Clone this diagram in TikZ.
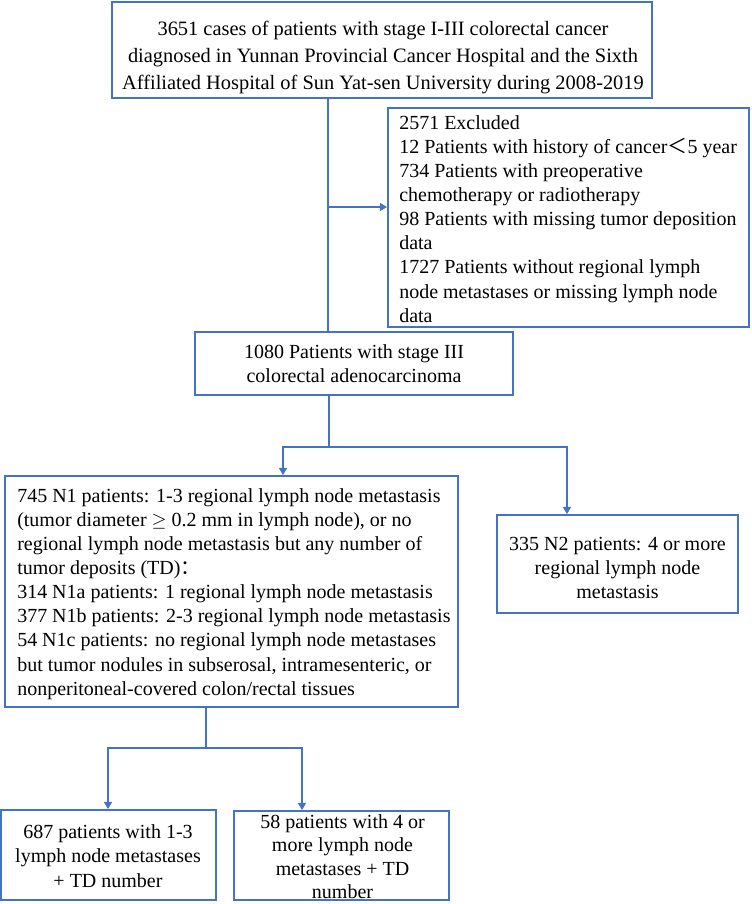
\documentclass[tikz,border=0pt]{standalone}
\usepackage{fontspec}
\setmainfont{Liberation Serif}
\newfontfamily\cjk{Noto Sans CJK SC}
\usetikzlibrary{arrows.meta}
\definecolor{lineblue}{HTML}{4472C4}
\begin{document}
\begin{tikzpicture}[x=0.75pt,y=-0.75pt,
  box/.style={draw=lineblue, line width=1.3pt, rectangle, inner sep=0pt},
  txt/.style={inner sep=0pt, align=center, font=\fontsize{15}{18.1}\selectfont},
  ltxt/.style={txt, align=left, anchor=north west},
  ln/.style={draw=lineblue, line width=1.4pt},
  arr/.style={ln, -{Triangle[width=6pt,length=5.5pt]}}]
\useasboundingbox (0,0) rectangle (752,904);

% boxes
\node[box, minimum width=405pt, minimum height=72pt] (top) at (382,50) {};
\node[box, minimum width=270.75pt, minimum height=164.25pt] (excl) at (568.5,217.5) {};
\node[box, minimum width=238.5pt, minimum height=47.25pt] (mid) at (354,363.5) {};
\node[box, minimum width=339.75pt, minimum height=173.25pt] (n1) at (231.5,591.5) {};
\node[box, minimum width=180.75pt, minimum height=73.5pt] (n2) at (617.5,564) {};
\node[box, minimum width=161.25pt, minimum height=67.5pt] (bl) at (108.5,855) {};
\node[box, minimum width=161.25pt, minimum height=66.75pt] (br) at (341.5,855.5) {};

% texts
\node[txt, anchor=north, font=\fontsize{15.3}{20.3}\selectfont] (topt) at (383,21)
  {3651 cases of patients with stage I-III colorectal cancer\\
   diagnosed in Yunnan Provincial Cancer Hospital and the Sixth\\
   Affiliated Hospital of Sun Yat-sen University during 2008-2019};

\node[ltxt] (exclt) at (399,115)
  {2571 Excluded\\
   12 Patients with history of cancer{\cjk ＜}5 year\\
   734 Patients with preoperative\\
   chemotherapy or radiotherapy\\
   98 Patients with missing tumor deposition\\
   data\\
   1727 Patients without regional lymph\\
   node metastases or missing lymph node\\
   data};

\node[txt, anchor=north] (midt) at (354,344)
  {1080 Patients with stage III\\colorectal adenocarcinoma};

\node[ltxt] (n1t) at (17,488)
  {745 N1 patients: 1-3 regional lymph node metastasis\\
   (tumor diameter $\geq$ 0.2 mm in lymph node), or no\\
   regional lymph node metastasis but any number of\\
   tumor deposits (TD){\cjk ：}\\
   314 N1a patients: 1 regional lymph node metastasis\\
   377 N1b patients: 2-3 regional lymph node metastasis\\
   54 N1c patients: no regional lymph node metastases\\
   but tumor nodules in subserosal, intramesenteric, or\\
   nonperitoneal-covered colon/rectal tissues};

\node[txt, anchor=north] (n2t) at (617.5,537)
  {335 N2 patients: 4 or more\\regional lymph node\\metastasis};

\node[txt, anchor=north, font=\fontsize{15}{18.6}\selectfont] (blt) at (108,824)
  {687 patients with 1-3\\lymph node metastases\\+ TD number};

\node[txt, anchor=north, font=\fontsize{15}{17.6}\selectfont] (brt) at (342.5,814)
  {58 patients with 4 or\\more lymph node\\metastases + TD\\number};

% connectors
\coordinate (a1) at (328,207);
\draw[ln] (top.south -| a1) -- (mid.north -| a1);
\draw[arr] (a1) -- (excl.west |- a1);

\coordinate (j2) at (329,447);
\coordinate (h2l) at (283,447);
\coordinate (h2r) at (567,447);
\draw[ln] (mid.south -| j2) -- (j2);
\draw[arr] (h2r) -- (h2l) -- (n1.north -| h2l);
\draw[arr] (h2l) -- (h2r) -- (n2.north -| h2r);

\coordinate (j3) at (206,748);
\coordinate (h3l) at (108,748);
\coordinate (h3r) at (302,748);
\draw[ln] (n1.south -| j3) -- (j3);
\draw[arr] (h3r) -- (h3l) -- (bl.north -| h3l);
\draw[arr] (h3l) -- (h3r) -- (br.north -| h3r);
\end{tikzpicture}
\end{document}
